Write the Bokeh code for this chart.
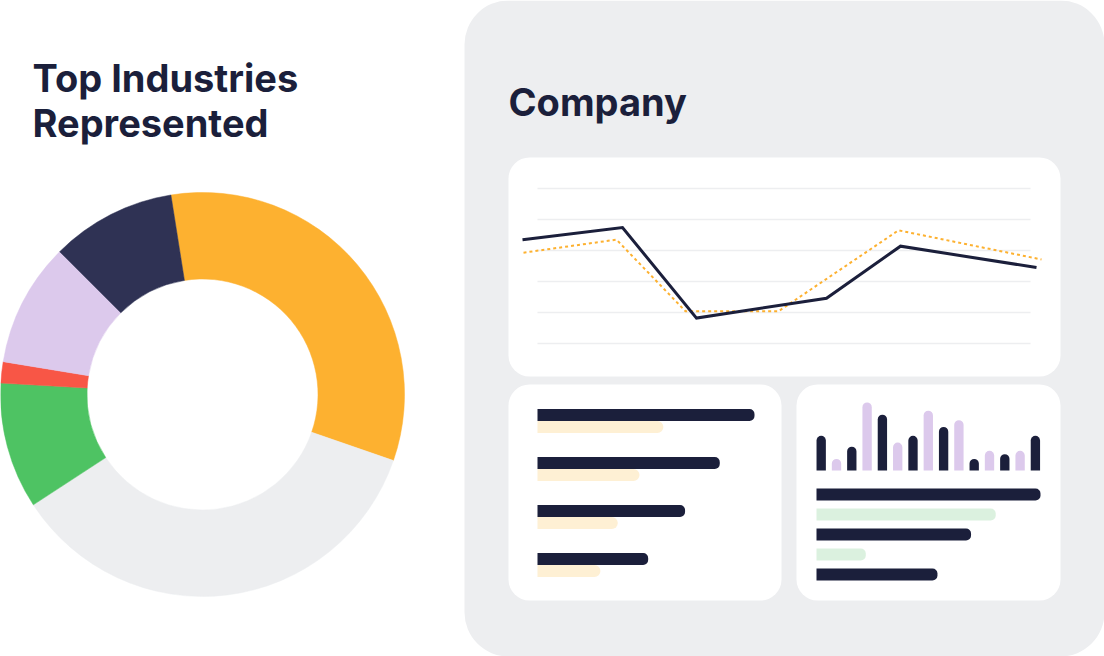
import math
from bokeh.plotting import figure
from bokeh.models import Range1d, ColumnDataSource
from bokeh.core.properties import value
from bokeh.embed import file_html
from bokeh.resources import INLINE

# ---------------- data ----------------
# Donut: "Top Industries Represented" (shares in %, clockwise from the top)
industry_names = ["Industry 1", "Industry 2", "Industry 3", "Industry 4", "Industry 5", "Industry 6"]
industry_share = [32.8, 35.5, 10.1, 1.7, 9.9, 10.0]
industry_colors = ["#FDB130", "#EDEEF0", "#4EC363", "#F85646", "#DCC9EC", "#2F3254"]

# Company line chart (x in periods, y in grid units 0..5)
main_x = [0.0, 1.0, 1.74, 3.04, 3.78, 5.14]
main_y = [3.35, 3.74, 0.82, 1.46, 3.14, 2.45]
comp_x = [0.01, 0.94, 1.63, 2.56, 3.76, 5.19]
comp_y = [2.93, 3.35, 1.04, 1.04, 3.65, 2.71]
grid_levels = [0, 1, 2, 3, 4, 5]

# Left small card: paired horizontal bars
left_primary = [100, 84, 68, 51]
left_secondary = [58, 47, 37, 29]

# Right small card: column bars and horizontal bars
col_values = [51, 17, 35, 100, 82, 41, 51, 88, 64, 74, 17, 29, 24, 29, 51]
col_kind = ["a", "b"] * 7 + ["a"]
row_values = [100, 80, 69, 22, 54]
row_kind = ["a", "b", "a", "b", "a"]

# ---------------- styling / layout ----------------
W, H = 1104, 656
NAVY = "#1B1F3B"
GRAY = "#EDEEF0"
ORANGE = "#FDB130"
CREAM = "#FEF0D4"
LAV = "#DCC9EC"
MINT = "#DBF1DF"
FONT = "Inter"
TITLE_SIZE = "38px"


def Y(img_y):
    return H - img_y


p = figure(width=W, height=H, x_range=Range1d(0, W), y_range=Range1d(0, H),
           x_axis_location=None, y_axis_location=None, toolbar_location=None,
           output_backend="svg", min_border=0)
p.grid.visible = False
p.outline_line_color = None
p.background_fill_color = "white"
p.border_fill_color = "white"

# ---------- donut ----------
cx, cy = 202, Y(394)
start_cw = -9.0
starts, ends = [], []
acc = start_cw
for s in industry_share:
    a0 = acc
    a1 = acc + s / 100.0 * 360.0
    acc = a1
    starts.append(math.radians(90 - a1))
    ends.append(math.radians(90 - a0))
donut = ColumnDataSource(dict(name=industry_names, share=industry_share, color=industry_colors,
                              start=starts, end=ends))
p.annular_wedge(x=cx, y=cy, inner_radius=115.5, outer_radius=202, start_angle="start",
                end_angle="end", fill_color="color", line_color="color", line_width=0.5,
                direction="anticlock", source=donut)

p.text(x=[32, 32], y=[Y(77), Y(122)], text=["Top Industries", "Represented"],
       text_font=value(FONT), text_font_style="bold", text_font_size=TITLE_SIZE,
       text_color=NAVY, text_baseline="alphabetic")

# ---------- right gray panel and cards ----------
p.quad(left=464, right=W, top=H, bottom=0, fill_color=GRAY, line_color=None, border_radius=44)
p.text(x=[508], y=[Y(101)], text=["Company"], text_font=value(FONT), text_font_style="bold",
       text_font_size=TITLE_SIZE, text_color=NAVY, text_baseline="alphabetic")

cards = dict(left=[508, 508, 796], right=[1060, 781, 1060],
             top=[Y(157), Y(384), Y(384)], bottom=[Y(376), Y(600), Y(600)])
p.quad(source=ColumnDataSource(cards), left="left", right="right", top="top", bottom="bottom",
       fill_color="white", line_color=None, border_radius=21)

# ---------- line chart ----------
LX0, LXS = 522.0, 100.0      # px of x=0, px per unit
LY0, LYS = Y(343), 31.0       # data-y of value 0, px per unit
p.extra_x_ranges["lx"] = Range1d((0 - LX0) / LXS, (W - LX0) / LXS)
p.extra_y_ranges["ly"] = Range1d((0 - LY0) / LYS, (H - LY0) / LYS)
gx0, gx1 = (537 - LX0) / LXS, (1030 - LX0) / LXS
p.segment(x0=[gx0] * len(grid_levels), x1=[gx1] * len(grid_levels), y0=grid_levels,
          y1=grid_levels, line_color=GRAY, line_width=1.5, x_range_name="lx", y_range_name="ly")
p.line(comp_x, comp_y, line_color=ORANGE, line_width=2, line_dash="3 3",
       x_range_name="lx", y_range_name="ly")
p.line(main_x, main_y, line_color=NAVY, line_width=3, line_join="miter",
       x_range_name="lx", y_range_name="ly")

# ---------- left card bars ----------
HX0, HXS = 537.0, 2.17
p.extra_x_ranges["hl"] = Range1d((0 - HX0) / HXS, (W - HX0) / HXS)
rows_primary = [Y(414.5 + 48 * i) for i in range(len(left_primary))]
rows_secondary = [Y(426.5 + 48 * i) for i in range(len(left_secondary))]
p.hbar(y=rows_secondary, left=0, right=left_secondary, height=12, fill_color=CREAM,
       line_color=None, border_radius=(0, 6, 6, 0), x_range_name="hl")
p.hbar(y=rows_primary, left=0, right=left_primary, height=12, fill_color=NAVY,
       line_color=None, border_radius=(0, 5, 5, 0), x_range_name="hl")

# ---------- right card columns ----------
VX0, VXS = 820.7, 15.3
VY0, VYS = Y(470), 0.68
p.extra_x_ranges["vx"] = Range1d((0 - VX0) / VXS, (W - VX0) / VXS)
p.extra_y_ranges["vy"] = Range1d((0 - VY0) / VYS, (H - VY0) / VYS)
col_colors = [NAVY if k == "a" else LAV for k in col_kind]
p.vbar(x=list(range(len(col_values))), top=col_values, bottom=0, width=0.61,
       fill_color=col_colors, line_color=None, border_radius=(5, 5, 0, 0),
       x_range_name="vx", y_range_name="vy")

# ---------- right card rows ----------
RX0, RXS = 816.0, 2.24
p.extra_x_ranges["hr"] = Range1d((0 - RX0) / RXS, (W - RX0) / RXS)
row_colors = [NAVY if k == "a" else MINT for k in row_kind]
p.hbar(y=[Y(494 + 20 * i) for i in range(len(row_values))], left=0, right=row_values,
       height=12, fill_color=row_colors, line_color=None, border_radius=(0, 5, 5, 0),
       x_range_name="hr")

open("out.html", "w").write(file_html(p, INLINE))
